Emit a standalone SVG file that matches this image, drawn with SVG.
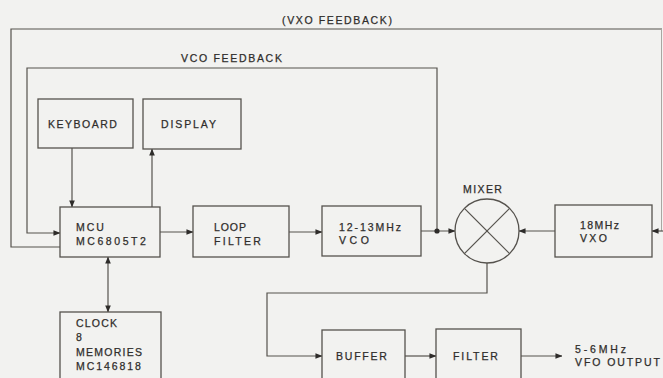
<svg xmlns="http://www.w3.org/2000/svg" width="663" height="378" viewBox="0 0 663 378">
<style>
.bx{fill:none;stroke:#55524d;stroke-width:1.3}
.ln{fill:none;stroke:#55524d;stroke-width:1.2}
.fa{fill:none;stroke:#a9a7a2;stroke-width:1}
.t{font-family:"Liberation Sans",Arial,sans-serif;font-size:10.5px;fill:#2f2d2b;letter-spacing:1.1px;stroke:#2f2d2b;stroke-width:0.25}
</style>
<defs>
<marker id="ah" viewBox="0 0 8 8" refX="7.5" refY="4" markerWidth="7" markerHeight="7" markerUnits="userSpaceOnUse" orient="auto">
<path d="M0,0.8 L8,4 L0,7.2 Z" fill="#2e2c2a"/>
</marker>
</defs>
<rect width="663" height="378" fill="#f2f2f0"/>

<g id="connectors">
<polyline class="ln" points="662,29 11,29 11,247 60,247"/>
<line class="fa" x1="661.5" y1="29" x2="661.5" y2="231"/>
<line class="ln" x1="663" y1="231" x2="652" y2="231" marker-end="url(#ah)"/>
<polyline class="ln" points="437,231 437,68 27,68 27,233 60,233" marker-end="url(#ah)"/>
<line class="ln" x1="72" y1="148" x2="72" y2="207" marker-end="url(#ah)"/>
<line class="ln" x1="152" y1="207" x2="152" y2="149" marker-end="url(#ah)"/>
<line class="ln" x1="108" y1="285" x2="108" y2="257" marker-end="url(#ah)"/>
<line class="ln" x1="108" y1="285" x2="108" y2="312" marker-end="url(#ah)"/>
<line class="ln" x1="160" y1="232" x2="193" y2="232" marker-end="url(#ah)"/>
<line class="ln" x1="289" y1="232" x2="322" y2="232" marker-end="url(#ah)"/>
<line class="ln" x1="421" y1="231" x2="455" y2="231" marker-end="url(#ah)"/>
<circle cx="437" cy="231" r="2.6" fill="#2e2c2a"/>
<line class="ln" x1="555" y1="231" x2="519" y2="231" marker-end="url(#ah)"/>
<polyline class="ln" points="487,263 487,293 267,293 267,356 322,356" marker-end="url(#ah)"/>
<line class="ln" x1="405" y1="356" x2="436" y2="356" marker-end="url(#ah)"/>
<line class="ln" x1="521" y1="356" x2="562" y2="356" marker-end="url(#ah)"/>
</g>

<text class="t" x="282" y="24" textLength="111">(VXO FEEDBACK)</text>
<text class="t" x="181" y="62" textLength="102">VCO FEEDBACK</text>

<g id="keyboard">
<rect class="bx" x="38" y="99" width="95" height="49"/>
<text class="t" x="48" y="128" textLength="70">KEYBOARD</text>
</g>
<g id="display">
<rect class="bx" x="143" y="99" width="98" height="50"/>
<text class="t" x="161" y="128" textLength="56">DISPLAY</text>
</g>
<g id="mcu">
<rect class="bx" x="60" y="207" width="100" height="50"/>
<text class="t" x="76" y="231" textLength="29">MCU</text>
<text class="t" x="76" y="245" textLength="71">MC6805T2</text>
</g>
<g id="loopfilter">
<rect class="bx" x="193" y="206" width="96" height="51"/>
<text class="t" x="214" y="231" textLength="33">LOOP</text>
<text class="t" x="214" y="245" textLength="48">FILTER</text>
</g>
<g id="vco">
<rect class="bx" x="322" y="206" width="99" height="50"/>
<text class="t" x="339" y="231" textLength="63">12-13MHz</text>
<text class="t" x="339" y="244" textLength="31">VCO</text>
</g>
<g id="mixer">
<circle class="bx" cx="487" cy="231" r="32"/>
<line class="ln" x1="464.4" y1="208.4" x2="509.6" y2="253.6"/>
<line class="ln" x1="509.6" y1="208.4" x2="464.4" y2="253.6"/>
<text class="t" x="463" y="193" textLength="40">MIXER</text>
</g>
<g id="vxo">
<rect class="bx" x="555" y="205" width="97" height="52"/>
<text class="t" x="580" y="229" textLength="40">18MHz</text>
<text class="t" x="580" y="242" textLength="28">VXO</text>
</g>
<g id="clock">
<rect class="bx" x="60" y="312" width="101" height="70"/>
<text class="t" x="76" y="327" textLength="42">CLOCK</text>
<text class="t" x="76" y="341">8</text>
<text class="t" x="76" y="356" textLength="67">MEMORIES</text>
<text class="t" x="76" y="370" textLength="66">MC146818</text>
</g>
<g id="buffer">
<rect class="bx" x="322" y="330" width="83" height="52"/>
<text class="t" x="336" y="360" textLength="52">BUFFER</text>
</g>
<g id="filter">
<rect class="bx" x="436" y="329" width="85" height="53"/>
<text class="t" x="453" y="360" textLength="46">FILTER</text>
</g>
<g id="output">
<text class="t" x="575" y="353" textLength="52">5-6MHz</text>
<text class="t" x="575" y="366" textLength="86">VFO OUTPUT</text>
</g>
</svg>
